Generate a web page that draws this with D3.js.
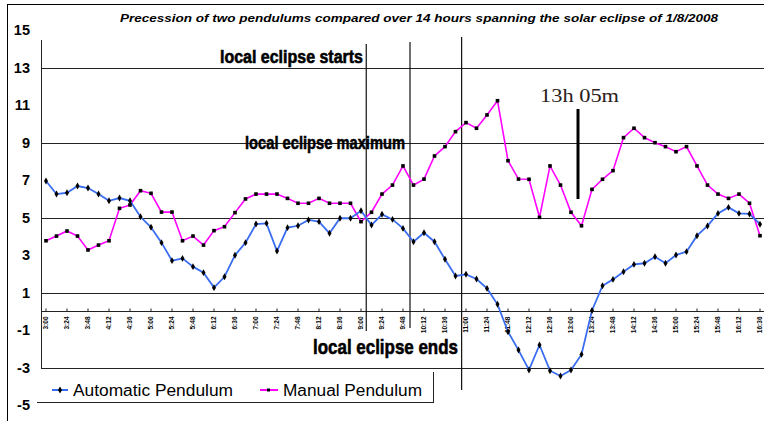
<!DOCTYPE html>
<html>
<head>
<meta charset="utf-8">
<script src="https://cdn.jsdelivr.net/npm/d3@7"></script>
<style>
  body { margin: 0; background: #fff; }
  svg { display: block; font-family: "Liberation Sans", Arial, sans-serif; }
</style>
</head>
<body>
<div id="chart"></div>
<script>
// Readings every 12 minutes from 3:00 to 16:36
var tickLabels = ["3:00", "3:24", "3:48", "4:12", "4:36", "5:00", "5:24", "5:48", "6:12", "6:36",
  "7:00", "7:24", "7:48", "8:12", "8:36", "9:00", "9:24", "9:48", "10:12", "10:36",
  "11:00", "11:24", "11:48", "12:12", "12:36", "13:00", "13:24", "13:48", "14:12", "14:36",
  "15:00", "15:24", "15:48", "16:12", "16:36"];

var automatic = [6.96, 6.26, 6.33, 6.69, 6.58, 6.26, 5.9, 6.05, 5.9, 5.05, 4.49, 3.67, 2.71, 2.83, 2.39,
  2.07, 1.27, 1.85, 3.0, 3.67, 4.66, 4.7, 3.22,
  4.47, 4.57, 4.88, 4.79, 4.17, 4.97, 4.97, 5.37, 4.61, 5.18, 4.91, 4.43, 3.72, 4.2, 3.72, 2.78,
  1.89, 1.98, 1.73, 1.23, 0.38, -1.08, -2.06,
  -3.12, -1.79, -3.16, -3.44, -3.12, -2.29,
  0.05, 1.37, 1.71, 2.12, 2.51, 2.57, 2.92, 2.57, 3.01, 3.19, 4.04, 4.56, 5.23, 5.55, 5.23, 5.2, 4.65];

var manual = [3.77, 4.02, 4.29, 4.02, 3.28, 3.54, 3.77, 5.5, 5.68, 6.44, 6.3, 5.3, 5.3, 3.77, 4.02,
  3.54, 4.31, 4.52, 5.27, 6.0, 6.26, 6.26, 6.26,
  6.03, 5.77, 5.77, 6.03, 5.77, 5.77, 5.77, 4.79, 5.29, 6.26, 6.74, 7.76, 6.74, 7.06, 8.29, 8.79,
  9.59, 10.07, 9.77, 10.48, 11.24, 8.04, 7.06,
  7.05, 5.02, 7.76, 6.74, 5.29, 4.57, 6.51, 7.05, 7.51, 9.27, 9.77, 9.27, 9.0, 8.79, 8.52, 8.79,
  7.76, 6.74, 6.26, 6.03, 6.26, 5.77, 4.04];

var yTicks = [15, 13, 11, 9, 7, 5, 3, 1, -1, -3, -5];
var gridValues = [13, 9, 5, 1, -3];

// eclipse marks, in minutes after midnight
var eclipseStart = 546;
var eclipseMax = 596;
var eclipseEnd = 655;
var markTime = 788;

var svgWidth = 764, svgHeight = 421;
var stepMinutes = 12, firstMinute = 180;

var svg = d3.select("#chart").append("svg")
  .attr("width", svgWidth).attr("height", svgHeight);

var x = d3.scaleLinear().domain([firstMinute, firstMinute + stepMinutes * 68]).range([46, 760]);
var y = d3.scaleLinear().domain([-5, 15]).range([405.2, 30.2]);

function minuteAt(i) { return firstMinute + stepMinutes * i; }

// outer frame
svg.append("rect").attr("x", 7.5).attr("y", 4.5).attr("width", 900).attr("height", 600)
  .attr("fill", "none").attr("stroke", "#000").attr("stroke-width", 1);

// title
svg.append("text")
  .attr("x", 120).attr("y", 22)
  .attr("textLength", 598).attr("lengthAdjust", "spacingAndGlyphs")
  .style("font-size", "11.5px").style("font-weight", "bold").style("font-style", "italic")
  .text("Precession of two pendulums compared over 14 hours spanning the solar eclipse of 1/8/2008");

// horizontal grid lines
svg.append("g").selectAll("line").data(gridValues).enter().append("line")
  .attr("x1", 41).attr("x2", svgWidth)
  .attr("y1", function(d) { return Math.round(y(d)) + 0.5; })
  .attr("y2", function(d) { return Math.round(y(d)) + 0.5; })
  .attr("stroke", "#222").attr("stroke-width", 1);

// y axis line and labels
svg.append("line").attr("x1", 41.5).attr("x2", 41.5).attr("y1", 40).attr("y2", Math.round(y(-3)) + 1)
  .attr("stroke", "#222");
svg.append("g").selectAll("text").data(yTicks).enter().append("text")
  .attr("x", 30).attr("y", function(d) { return y(d); }).attr("dy", "0.36em")
  .attr("text-anchor", "end")
  .style("font-size", "14.5px").style("font-weight", "bold")
  .text(function(d) { return d; });

// x axis at zero, with rotated labels
var xAxisY = Math.round(y(0)) + 0.5;
svg.append("line").attr("x1", 41).attr("x2", svgWidth).attr("y1", xAxisY).attr("y2", xAxisY)
  .attr("stroke", "#222");
var tickGroup = svg.append("g");
tickLabels.forEach(function(lab, k) {
  var tx = x(minuteAt(2 * k));
  tickGroup.append("line").attr("x1", tx).attr("x2", tx).attr("y1", xAxisY - 3).attr("y2", xAxisY)
    .attr("stroke", "#222");
  tickGroup.append("text")
    .attr("transform", "translate(" + (tx + 2.3) + "," + (xAxisY + 5) + ") rotate(-90)")
    .attr("text-anchor", "end")
    .style("font-size", "6.5px").style("font-weight", "bold")
    .text(lab);
});

// eclipse lines
svg.append("line").attr("x1", x(eclipseStart)).attr("x2", x(eclipseStart)).attr("y1", 44).attr("y2", 331)
  .attr("stroke", "#111").attr("stroke-width", 1.2);
svg.append("line").attr("x1", x(eclipseMax)).attr("x2", x(eclipseMax)).attr("y1", 42).attr("y2", 328)
  .attr("stroke", "#111").attr("stroke-width", 1.2);
svg.append("line").attr("x1", x(eclipseEnd)).attr("x2", x(eclipseEnd)).attr("y1", 37).attr("y2", 390)
  .attr("stroke", "#111").attr("stroke-width", 1.2);

// series
var line = d3.line()
  .x(function(d, i) { return x(minuteAt(i)); })
  .y(function(d) { return y(d); });

svg.append("path").datum(manual).attr("d", line)
  .attr("fill", "none").attr("stroke", "#ff00ff").attr("stroke-width", 1.6);
svg.append("path").datum(automatic).attr("d", line)
  .attr("fill", "none").attr("stroke", "#3a6df0").attr("stroke-width", 1.8);

svg.append("g").selectAll("rect").data(manual).enter().append("rect")
  .attr("x", function(d, i) { return x(minuteAt(i)) - 1.8; })
  .attr("y", function(d) { return y(d) - 1.8; })
  .attr("width", 3.6).attr("height", 3.6).attr("fill", "#000");

var diamond = d3.symbol().type(d3.symbolDiamond).size(14);
svg.append("g").selectAll("path").data(automatic).enter().append("path")
  .attr("d", diamond)
  .attr("transform", function(d, i) { return "translate(" + x(minuteAt(i)) + "," + y(d) + ")"; })
  .attr("fill", "#000");

// annotations
function note(txt, x0, yb, len, size) {
  svg.append("text").attr("x", x0).attr("y", yb)
    .attr("textLength", len).attr("lengthAdjust", "spacingAndGlyphs")
    .style("font-size", size + "px").style("font-weight", "bold")
    .attr("stroke", "#000").attr("stroke-width", 0.6)
    .text(txt);
}
note("local eclipse starts", 220, 63, 143, 18);
note("local eclipse maximum", 245, 149, 160, 19);
note("local eclipse ends", 313, 354, 145, 21);

svg.append("line").attr("x1", x(markTime)).attr("x2", x(markTime)).attr("y1", 109).attr("y2", 199)
  .attr("stroke", "#000").attr("stroke-width", 3);
svg.append("text").attr("x", 540).attr("y", 102)
  .attr("textLength", 79).attr("lengthAdjust", "spacingAndGlyphs")
  .style("font-family", "'Liberation Serif', 'Times New Roman', serif")
  .style("font-size", "19px").attr("fill", "#2a2018")
  .text("13h 05m");

// legend
var legend = svg.append("g");
legend.append("rect").attr("x", 37).attr("y", 372).attr("width", 396).attr("height", 30).attr("fill", "#fff");
legend.append("line").attr("x1", 37).attr("x2", 433.5).attr("y1", 402.5).attr("y2", 402.5).attr("stroke", "#222");
legend.append("line").attr("x1", 433.5).attr("x2", 433.5).attr("y1", 372).attr("y2", 403).attr("stroke", "#222");

legend.append("line").attr("x1", 52).attr("x2", 68).attr("y1", 390).attr("y2", 390)
  .attr("stroke", "#3a6df0").attr("stroke-width", 2);
legend.append("path").attr("d", diamond).attr("transform", "translate(60,390)").attr("fill", "#000");
legend.append("text").attr("x", 73).attr("y", 395.5)
  .attr("textLength", 160).attr("lengthAdjust", "spacingAndGlyphs")
  .style("font-size", "16px").text("Automatic Pendulum");

legend.append("line").attr("x1", 260).attr("x2", 278).attr("y1", 390).attr("y2", 390)
  .attr("stroke", "#ff00ff").attr("stroke-width", 2);
legend.append("rect").attr("x", 267).attr("y", 388.5).attr("width", 3).attr("height", 3).attr("fill", "#000");
legend.append("text").attr("x", 283).attr("y", 395.5)
  .attr("textLength", 139).attr("lengthAdjust", "spacingAndGlyphs")
  .style("font-size", "16px").text("Manual Pendulum");
</script>
</body>
</html>
